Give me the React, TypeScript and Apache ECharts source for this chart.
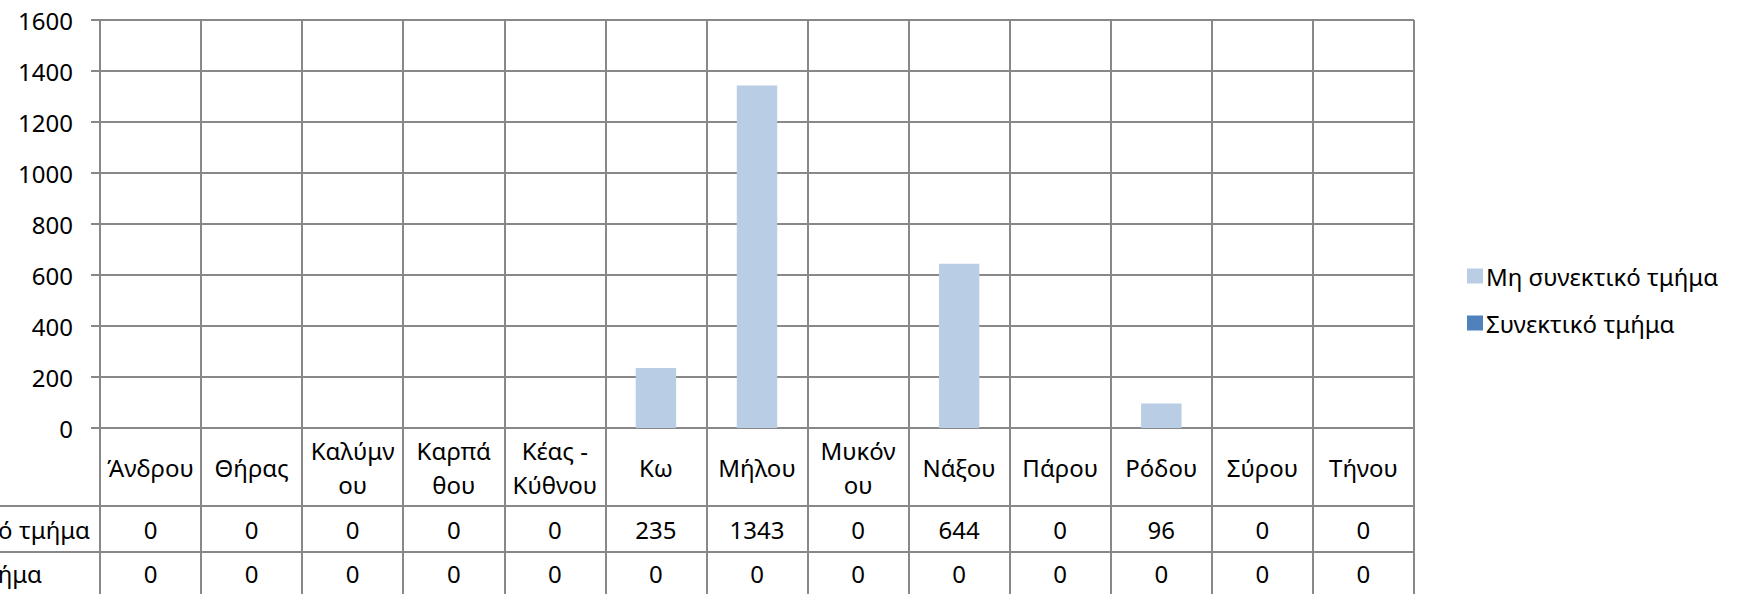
import React, { useEffect, useRef } from "react";
import * as echarts from "echarts";

const categories = [
  "Άνδρου",
  "Θήρας",
  "Καλύμν\nου",
  "Καρπά\nθου",
  "Κέας -\nΚύθνου",
  "Κω",
  "Μήλου",
  "Μυκόν\nου",
  "Νάξου",
  "Πάρου",
  "Ρόδου",
  "Σύρου",
  "Τήνου",
];
const seriesNames = ["Μη συνεκτικό τμήμα", "Συνεκτικό τμήμα"];
const nonCohesive = [0, 0, 0, 0, 0, 235, 1343, 0, 644, 0, 96, 0, 0];
const cohesive = [0, 0, 0, 0, 0, 0, 0, 0, 0, 0, 0, 0, 0];
const yTicks = { min: 0, max: 1600, interval: 200 };

const W = 1744;
const H = 594;
const GRID_LEFT = 100;
const GRID_RIGHT = 330;
const GRID_TOP = 20;
const GRID_BOTTOM = 166;
const ROW1_LINE = 506;
const ROW2_LINE = 552;
const FONT = "'Noto Sans', 'DejaVu Sans', sans-serif";
const FS = 24;
const LINE = "#888888";
const TXT = "#000000";

export default function App() {
  const ref = useRef<HTMLDivElement>(null);
  useEffect(() => {
    document.body.style.margin = "0";
    const chart = echarts.init(ref.current!, null, { renderer: "svg" });
    const lineStyle = { color: LINE, width: 2 };
    const rowAxis = (values: number[], margin: number) => ({
      type: "category",
      data: categories,
      position: "bottom",
      gridIndex: 0,
      axisLine: { show: false },
      axisTick: { show: false },
      splitLine: { show: false },
      axisLabel: {
        interval: 0,
        margin,
        verticalAlign: "middle",
        fontSize: FS,
        fontFamily: FONT,
        color: TXT,
        formatter: (_v: string, i: number) => String(values[i]),
      },
    });
    chart.setOption({
      animation: false,
      backgroundColor: "#ffffff",
      grid: { left: GRID_LEFT, right: GRID_RIGHT, top: GRID_TOP, bottom: GRID_BOTTOM },
      legend: {
        orient: "vertical",
        left: 1462,
        top: 259,
        itemWidth: 16,
        itemHeight: 15,
        itemGap: 23,
        icon: "rect",
        data: seriesNames,
        textStyle: { fontSize: FS, fontFamily: FONT, color: TXT, lineHeight: 24, padding: [0, 0, 0, -2] },
      },
      xAxis: [
        {
          type: "category",
          data: categories,
          position: "bottom",
          axisLine: { show: true, lineStyle },
          axisTick: { show: true, interval: 0, length: GRID_BOTTOM, lineStyle },
          splitLine: { show: true, interval: 0, lineStyle },
          axisLabel: {
            interval: 0,
            margin: 39,
            verticalAlign: "middle",
            lineHeight: 34,
            fontSize: FS,
            fontFamily: FONT,
            color: TXT,
          },
        },
        rowAxis(nonCohesive, 101),
        rowAxis(cohesive, 145),
      ],
      yAxis: {
        type: "value",
        min: yTicks.min,
        max: yTicks.max,
        interval: yTicks.interval,
        axisLine: { show: true, lineStyle },
        axisTick: { show: true, length: 9, lineStyle },
        splitLine: { show: true, lineStyle },
        axisLabel: {
          margin: 27,
          fontSize: FS,
          fontFamily: FONT,
          color: TXT,
          formatter: (v: number) => String(v),
        },
      },
      series: [
        {
          name: seriesNames[0],
          type: "bar",
          stack: "total",
          data: nonCohesive,
          barWidth: "40%",
          itemStyle: { color: "#B9CDE5" },
        },
        {
          name: seriesNames[1],
          type: "bar",
          stack: "total",
          data: cohesive,
          barWidth: "40%",
          itemStyle: { color: "#4F81BD" },
        },
      ],
      graphic: [
        { type: "line", shape: { x1: 0, y1: ROW1_LINE, x2: W - GRID_RIGHT, y2: ROW1_LINE }, style: { stroke: LINE, lineWidth: 2 } },
        { type: "line", shape: { x1: 0, y1: ROW2_LINE, x2: W - GRID_RIGHT, y2: ROW2_LINE }, style: { stroke: LINE, lineWidth: 2 } },
        {
          type: "text",
          x: GRID_LEFT - 10,
          y: (ROW1_LINE + ROW2_LINE) / 2,
          style: { text: seriesNames[0], font: `${FS}px ${FONT}`, fill: TXT, align: "right", verticalAlign: "middle" },
        },
        {
          type: "text",
          x: GRID_LEFT - 58,
          y: ROW2_LINE + 21,
          style: { text: seriesNames[1], font: `${FS}px ${FONT}`, fill: TXT, align: "right", verticalAlign: "middle" },
        },
      ],
    });
    return () => chart.dispose();
  }, []);
  return <div ref={ref} style={{ position: "absolute", left: 0, top: 0, width: W, height: H }} />;
}
